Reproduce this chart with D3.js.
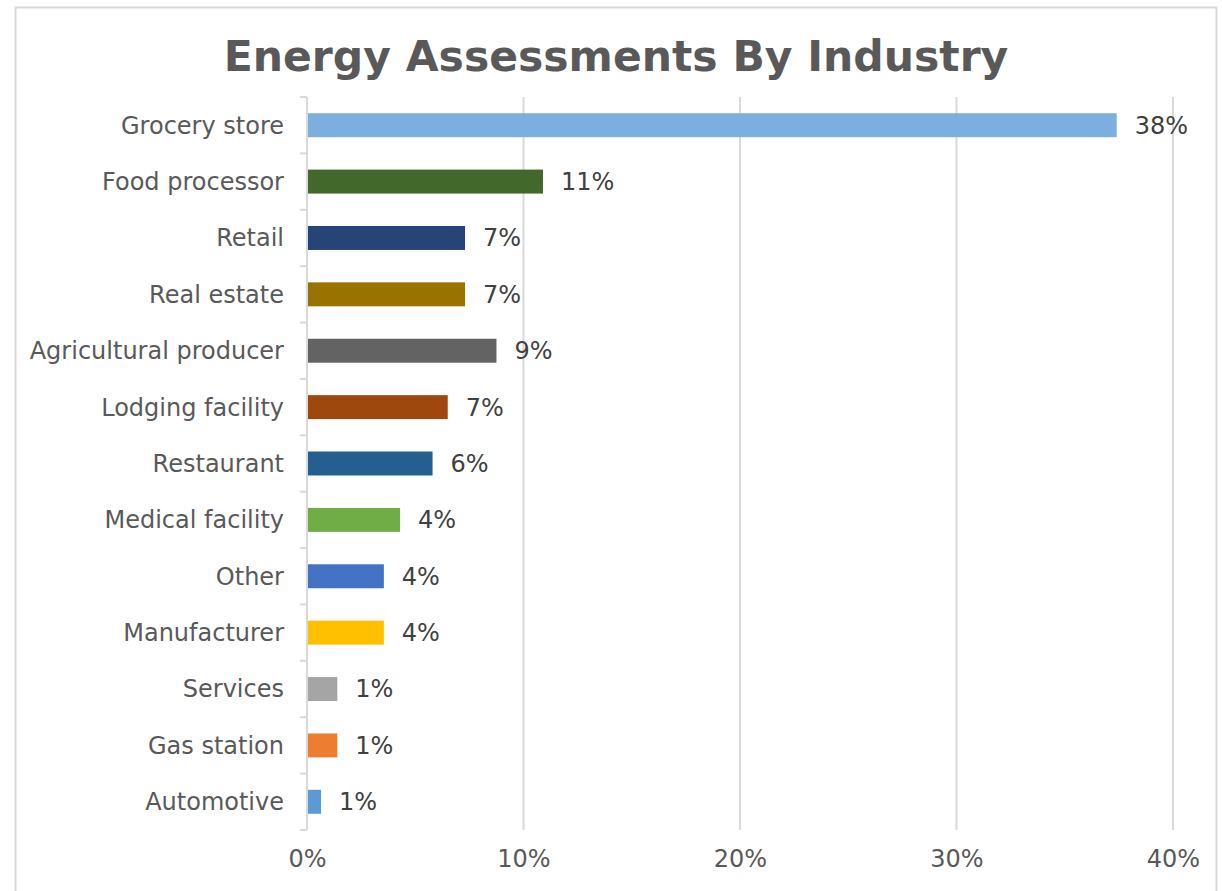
<!DOCTYPE html>
<html>
<head>
<meta charset="utf-8">
<script src="https://cdn.jsdelivr.net/npm/d3@7"></script>
<style>
  body { margin: 0; background: #fff; }
  text { font-family: "DejaVu Sans", Verdana, sans-serif; }
</style>
</head>
<body>
<div id="chart"></div>
<script>
// chart data
const categories = ["Grocery store", "Food processor", "Retail", "Real estate", "Agricultural producer",
  "Lodging facility", "Restaurant", "Medical facility", "Other", "Manufacturer", "Services",
  "Gas station", "Automotive"];
const values = [0.374, 0.109, 0.073, 0.073, 0.0875, 0.065, 0.058, 0.043, 0.0355, 0.0355, 0.014, 0.014, 0.0065];
const valueLabels = ["38%", "11%", "7%", "7%", "9%", "7%", "6%", "4%", "4%", "4%", "1%", "1%", "1%"];
const barColors = ["#7cafdd", "#43682b", "#264478", "#997300", "#636363", "#9e480e", "#255e91",
  "#70ad47", "#4472c4", "#ffc000", "#a5a5a5", "#ed7d31", "#5b9bd5"];
const xTicks = [0, 0.1, 0.2, 0.3, 0.4];

const W = 1222, H = 891;
const margin = { top: 97, right: 50, bottom: 61, left: 307 };
const width = 1173 - margin.left, height = 830 - margin.top;

const svg = d3.select("#chart").append("svg")
  .attr("width", W).attr("height", H);

// frame
svg.append("rect")
  .attr("x", 15.5).attr("y", 7.5).attr("width", 1201).attr("height", 900)
  .attr("fill", "#fff").attr("stroke", "#d9d9d9").attr("stroke-width", 2);

// title
svg.append("text")
  .attr("x", 616).attr("y", 71)
  .attr("text-anchor", "middle")
  .attr("font-size", 42.5).attr("font-weight", "bold")
  .attr("fill", "#595959")
  .text("Energy Assessments By Industry");

const g = svg.append("g").attr("transform", `translate(${margin.left},${margin.top})`);

const x = d3.scaleLinear().domain([0, 0.4]).range([0, width]);
const y = d3.scaleBand().domain(categories).range([0, height])
  .paddingInner(0.575).paddingOuter(0.2875);

// gridlines
g.selectAll(".grid").data(xTicks.slice(1)).enter().append("line")
  .attr("x1", d => x(d)).attr("x2", d => x(d))
  .attr("y1", 0).attr("y2", height)
  .attr("stroke", "#d9d9d9").attr("stroke-width", 2);

// x axis labels
const xAxis = g.append("g")
  .attr("transform", `translate(0,${height})`)
  .call(d3.axisBottom(x).tickValues(xTicks).tickFormat(d3.format(".0%")).tickSize(0).tickPadding(20));
xAxis.select(".domain").remove();
xAxis.selectAll("text").attr("font-size", 24).attr("fill", "#595959")
  .style("font-family", "'DejaVu Sans', Verdana, sans-serif");

// category axis line and boundary ticks
const gap = (y.step() - y.bandwidth()) / 2;
const bounds = categories.map(c => y(c) - gap).concat([height]);
g.append("line").attr("x1", 0).attr("x2", 0).attr("y1", 0).attr("y2", height)
  .attr("stroke", "#d9d9d9").attr("stroke-width", 2);
g.selectAll(".ytick").data(bounds).enter().append("line")
  .attr("x1", -7).attr("x2", 0)
  .attr("y1", d => d).attr("y2", d => d)
  .attr("stroke", "#d9d9d9").attr("stroke-width", 2);

// category labels
g.selectAll(".cat").data(categories).enter().append("text")
  .attr("x", -23)
  .attr("y", d => y(d) + y.bandwidth() / 2)
  .attr("dy", "0.35em")
  .attr("text-anchor", "end")
  .attr("font-size", 24).attr("fill", "#595959")
  .text(d => d);

// bars
g.selectAll(".bar").data(categories).enter().append("rect")
  .attr("x", 1)
  .attr("y", d => y(d))
  .attr("width", (d, i) => x(values[i]) - 1)
  .attr("height", y.bandwidth())
  .attr("fill", (d, i) => barColors[i]);

// value labels
g.selectAll(".val").data(categories).enter().append("text")
  .attr("x", (d, i) => x(values[i]) + 18)
  .attr("y", d => y(d) + y.bandwidth() / 2)
  .attr("dy", "0.35em")
  .attr("font-size", 24).attr("fill", "#404040")
  .text((d, i) => valueLabels[i]);
</script>
</body>
</html>
